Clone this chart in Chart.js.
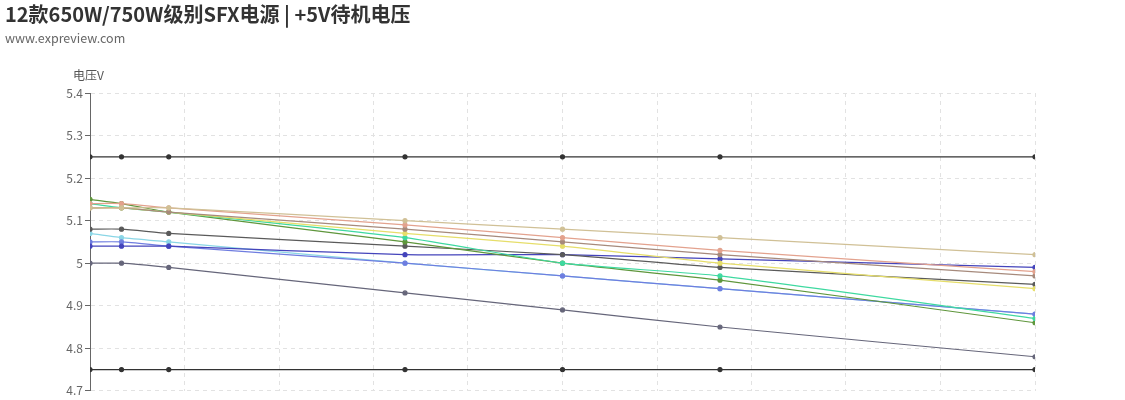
<!DOCTYPE html>
<html>
<head>
<meta charset="utf-8">
<script src="https://cdn.jsdelivr.net/npm/chart.js@4"></script>
<style>
  html, body { margin: 0; padding: 0; background: #fff; overflow: hidden; }
  #wrap { position: relative; width: 1125px; height: 400px; font-family: "Noto Sans CJK SC", "Noto Sans", sans-serif; }
  #title { position: absolute; left: 5px; top: -1px; font-size: 20px; font-weight: bold; color: #333; }
  #sub { position: absolute; left: 5px; top: 28px; font-size: 12.5px; color: #666; }
  #yname { position: absolute; left: 73px; top: 66px; font-size: 12px; color: #555; }
  canvas { position: absolute; left: 0; top: 0; }
</style>
</head>
<body>
<div id="wrap">
  <canvas id="chart" width="1125" height="400"></canvas>
  <div id="title">12款650W/750W级别SFX电源 | +5V待机电压</div>
  <div id="sub">www.expreview.com</div>
  <div id="yname">电压V</div>
</div>
<script>
// +5VSB load (A) at each test point
const loads = [0, 0.1, 0.25, 1, 1.5, 2, 3];

const upperLimit = [5.25, 5.25, 5.25, 5.25, 5.25, 5.25, 5.25];
const lowerLimit = [4.75, 4.75, 4.75, 4.75, 4.75, 4.75, 4.75];

const olive     = [5.15, 5.14, 5.12, 5.05, 5.00, 4.96, 4.86];
const teal      = [5.14, 5.13, 5.12, 5.06, 5.00, 4.97, 4.87];
const salmon    = [5.14, 5.14, 5.13, 5.09, 5.06, 5.03, 4.98];
const tan       = [5.13, 5.13, 5.13, 5.10, 5.08, 5.06, 5.02];
const brown     = [5.13, 5.13, 5.12, 5.08, 5.05, 5.02, 4.97];
const yellow    = [5.13, 5.13, 5.12, 5.07, 5.04, 5.00, 4.94];
const darkGray  = [5.08, 5.08, 5.07, 5.04, 5.02, 4.99, 4.95];
const darkBlue  = [5.04, 5.04, 5.04, 5.02, 5.02, 5.01, 4.99];
const cyan      = [5.07, 5.06, 5.05, 5.00, 4.97, 4.94, 4.88];
const bluePurple = [5.05, 5.05, 5.04, 5.00, 4.97, 4.94, 4.88];
const gray      = [5.00, 5.00, 4.99, 4.93, 4.89, 4.85, 4.78];

const yTicks = [4.7, 4.8, 4.9, 5, 5.1, 5.2, 5.3, 5.4];

function series(values, color, tension) {
  return {
    data: values.map((v, i) => ({ x: loads[i], y: v })),
    borderColor: color,
    backgroundColor: color,
    borderWidth: 1.2,
    pointRadius: 2,
    pointHoverRadius: 2,
    tension: tension
  };
}

const ctx = document.getElementById('chart').getContext('2d');
new Chart(ctx, {
  type: 'line',
  data: {
    // first dataset ends up on top
    datasets: [
      series(upperLimit, '#333333', 0),
      series(lowerLimit, '#333333', 0),
      series(tan, '#d0c096', 0.2),
      series(salmon, '#e3a28e', 0.2),
      series(brown, '#a68a7c', 0.2),
      series(yellow, '#e6de6a', 0.2),
      series(teal, '#3ed9a0', 0.2),
      series(olive, '#5f963c', 0.2),
      series(darkGray, '#5a5a5a', 0.2),
      series(darkBlue, '#4444bb', 0.2),
      series(bluePurple, '#6f7de0', 0.2),
      series(cyan, '#8ad6e6', 0.2),
      series(gray, '#66667a', 0.2)
    ]
  },
  options: {
    responsive: false,
    animation: false,
    layout: { padding: { top: 93, right: 90, bottom: 0, left: 0 } },
    plugins: { legend: { display: false }, tooltip: { enabled: false } },
    scales: {
      x: {
        type: 'linear',
        min: 0,
        max: 3,
        ticks: { display: false, stepSize: 0.3 },
        grid: { color: '#e2e2e2', drawTicks: false },
        border: { display: false, dash: [4, 4] },
        afterFit: s => { s.height = 7; }
      },
      y: {
        min: 4.7,
        max: 5.4,
        afterBuildTicks: s => { s.ticks = yTicks.map(v => ({ value: v })); },
        ticks: {
          color: '#666',
          font: { size: 12, family: '"Noto Sans CJK SC", "Noto Sans", sans-serif' },
          padding: 2,
          callback: v => String(+v.toFixed(2))
        },
        grid: {
          color: '#e2e2e2',
          tickColor: '#666',
          tickLength: 5,
          tickBorderDash: []
        },
        border: { color: '#666', width: 1, dash: [4, 4] },
        afterFit: s => { s.width = 90; }
      }
    }
  }
});
</script>
</body>
</html>
